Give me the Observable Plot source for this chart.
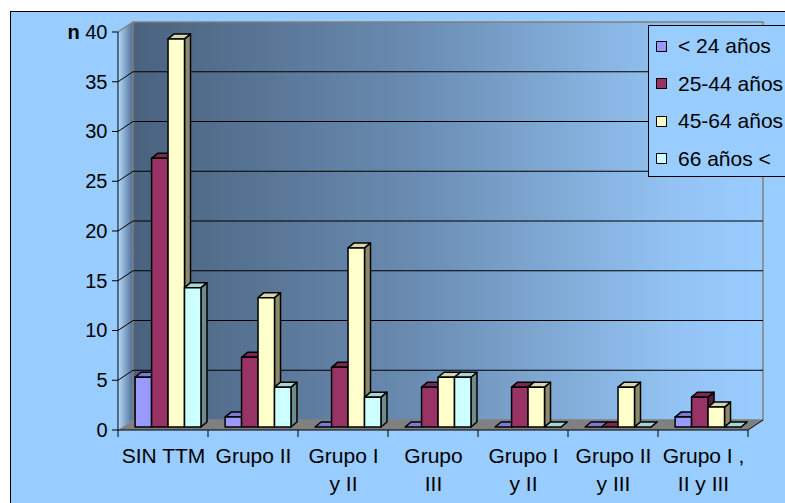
<!DOCTYPE html>
<html>
<head>
<meta charset="utf-8">
<script src="https://cdn.jsdelivr.net/npm/d3@7"></script>
<script src="https://cdn.jsdelivr.net/npm/@observablehq/plot@0.6"></script>
<style>
  body { margin: 0; background: #fff; font-family: "Liberation Sans", Arial, sans-serif; }
  #chart { position: relative; width: 785px; height: 503px; overflow: hidden; background: #fff; }
  #panel { position: absolute; left: 10px; top: 11px; width: 820px; height: 540px; background: #99ccff; border: 1px solid #000; }
  #plot { position: absolute; left: 0; top: 0; }
  #legend { position: absolute; left: 648px; top: 25px; width: 160px; height: 150px; border: 1px solid #000; background: #99ccff; }
  .item { position: absolute; left: 0; height: 24px; display: flex; align-items: center; font-size: 21px; color: #000; white-space: nowrap; }
  .sw { width: 9px; height: 9px; border: 1px solid #000; margin-left: 7px; margin-right: 11px; }
</style>
</head>
<body>
<div id="chart">
  <div id="panel"></div>
  <div id="plot"></div>
  <div id="legend"></div>
</div>
<script>
// Pacientes (n) por grupo de tratamiento y edad
const categorias = ["SIN TTM", "Grupo II", "Grupo I\ny II", "Grupo\nIII", "Grupo I\ny II", "Grupo II\ny III", "Grupo I ,\nII y III"];
const edades = ["< 24 años", "25-44 años", "45-64 años", "66 años <"];
const menor24 = [5, 1, 0, 0, 0, 0, 1];
const de25a44 = [27, 7, 6, 4, 4, 0, 3];
const de45a64 = [39, 13, 18, 5, 4, 4, 2];
const mayor66 = [14, 4, 3, 5, 0, 0, 0];
const yTicks = [0, 5, 10, 15, 20, 25, 30, 35, 40];

// front, top and side face colours for each age group
const frente = ["#9999ff", "#993366", "#ffffcc", "#ccffff"];
const techo = ["#7b7bd4", "#7a2952", "#d8d6ad", "#a8d4d4"];
const lado = ["#5e5e9e", "#5a1e3c", "#8c8a6c", "#6f8c8c"];

const series = [menor24, de25a44, de45a64, mayor66];
const filas = series.flatMap((vals, s) => vals.map((n, i) => ({cat: i, serie: s, n})));

const DX = 15, DY = -10;   // depth of the chart box
const BX = 6, BY = -5;     // depth of each column
const BSHIFT = -3;         // columns stand slightly behind the front edge

// back wall, side wall, floor, gridlines and axis lines
function paredes(index, {x, y}) {
  const x0 = x(0), x1 = x(categorias.length - 1) + x.bandwidth();
  const yb = y(0), yt = y(yTicks[yTicks.length - 1]);
  const g = d3.create("svg:g");
  const defs = g.append("defs");
  const gb = defs.append("linearGradient").attr("id", "fondo").attr("x1", 0).attr("x2", 1).attr("y1", 0).attr("y2", 0);
  gb.append("stop").attr("offset", "0%").attr("stop-color", "#4a627e");
  gb.append("stop").attr("offset", "45%").attr("stop-color", "#6a8cb2");
  gb.append("stop").attr("offset", "85%").attr("stop-color", "#92c2f2");
  gb.append("stop").attr("offset", "100%").attr("stop-color", "#99ccff");
  const gs = defs.append("linearGradient").attr("id", "lateral").attr("x1", 0).attr("x2", 1).attr("y1", 0).attr("y2", 0);
  gs.append("stop").attr("offset", "0%").attr("stop-color", "#b4dcff");
  gs.append("stop").attr("offset", "100%").attr("stop-color", "#4f6e94");

  g.append("path")
    .attr("d", `M${x0},${yb}L${x0},${yt}L${x0 + DX},${yt + DY}L${x0 + DX},${yb + DY}Z`)
    .attr("fill", "url(#lateral)");
  g.append("rect")
    .attr("x", x0 + DX).attr("y", yt + DY)
    .attr("width", x1 - x0).attr("height", yb - yt)
    .attr("fill", "url(#fondo)").attr("stroke", "#808080").attr("stroke-width", 1.5);
  g.append("path")
    .attr("d", `M${x0},${yb}L${x1},${yb}L${x1 + DX},${yb + DY}L${x0 + DX},${yb + DY}Z`)
    .attr("fill", "#808080");

  for (const v of yTicks.slice(1)) {
    const yy = y(v);
    const gris = v === yTicks[yTicks.length - 1];
    if (!gris) {
      g.append("line").attr("x1", x0 + DX).attr("x2", x1 + DX).attr("y1", yy + DY).attr("y2", yy + DY)
        .attr("stroke", "#000").attr("stroke-width", 1);
    }
    g.append("line").attr("x1", x0).attr("x2", x0 + DX).attr("y1", yy).attr("y2", yy + DY)
      .attr("stroke", gris ? "#808080" : "#000").attr("stroke-width", gris ? 1.5 : 1);
  }
  // axis lines and ticks
  g.append("line").attr("x1", x0).attr("x2", x0).attr("y1", yt).attr("y2", yb).attr("stroke", "#000");
  g.append("line").attr("x1", x0).attr("x2", x1).attr("y1", yb).attr("y2", yb).attr("stroke", "#000");
  g.append("line").attr("x1", x1).attr("x2", x1 + DX).attr("y1", yb).attr("y2", yb + DY).attr("stroke", "#000");
  for (const v of yTicks) {
    g.append("line").attr("x1", x0 - 6).attr("x2", x0).attr("y1", y(v)).attr("y2", y(v)).attr("stroke", "#000");
  }
  for (let i = 0; i <= categorias.length; i++) {
    const xx = i < categorias.length ? x(i) : x1;
    g.append("line").attr("x1", xx).attr("x2", xx).attr("y1", yb).attr("y2", yb + 7).attr("stroke", "#000");
  }
  return g.node();
}

// one 3D column per category for age group s
function columnas(s) {
  return Plot.barY(filas.filter(d => d.serie === s), {
    x: "cat",
    y: "n",
    render(index, scales, values) {
      const bw = scales.x.bandwidth();
      const w = bw * 0.183;
      const g = d3.create("svg:g")
        .attr("stroke", "#000").attr("stroke-width", 1.5).attr("stroke-linejoin", "round");
      for (const i of index) {
        const l = values.x[i] + bw * 0.19 + s * w;
        const r = l + w;
        const b = values.y1[i] + BSHIFT;
        const t = values.y2[i] + BSHIFT;
        g.append("path").attr("fill", lado[s])
          .attr("d", `M${r},${b}L${r},${t}L${r + BX},${t + BY}L${r + BX},${b + BY}Z`);
        g.append("path").attr("fill", techo[s])
          .attr("d", `M${l},${t}L${l + BX},${t + BY}L${r + BX},${t + BY}L${r},${t}Z`);
        if (b - t > 0.5) {
          g.append("rect").attr("fill", frente[s])
            .attr("x", l).attr("y", t).attr("width", w).attr("height", b - t);
        }
      }
      return g.node();
    }
  });
}

const chart = Plot.plot({
  width: 785,
  height: 503,
  marginLeft: 118,
  marginRight: 37,
  marginTop: 32,
  marginBottom: 73,
  style: {background: "transparent", overflow: "visible", fontFamily: "Liberation Sans, Arial, sans-serif"},
  x: {type: "band", domain: d3.range(categorias.length), padding: 0, axis: null},
  y: {domain: [0, 40], axis: null},
  marks: [
    paredes,
    ...series.map((_, s) => columnas(s)),
    Plot.text(yTicks, {y: d => d, text: d => String(d), frameAnchor: "left", textAnchor: "end", dx: -11, fontSize: 20, fill: "#000"}),
    Plot.text([40], {y: d => d, text: () => "n", frameAnchor: "left", textAnchor: "start", dx: -51, fontSize: 20, fontWeight: "bold", fill: "#000"}),
    Plot.text(d3.range(categorias.length), {x: d => d, text: d => categorias[d], frameAnchor: "bottom", lineAnchor: "top", dy: 13, fontSize: 21, lineHeight: 1.33, fill: "#000"})
  ]
});
document.getElementById("plot").append(chart);

// legend
const legend = document.getElementById("legend");
edades.forEach((e, s) => {
  const it = document.createElement("div");
  it.className = "item";
  it.style.top = (8 + s * 37.5) + "px";
  const sw = document.createElement("span");
  sw.className = "sw";
  sw.style.background = frente[s];
  const tx = document.createElement("span");
  tx.textContent = e;
  it.append(sw, tx);
  legend.append(it);
});
</script>
</body>
</html>
